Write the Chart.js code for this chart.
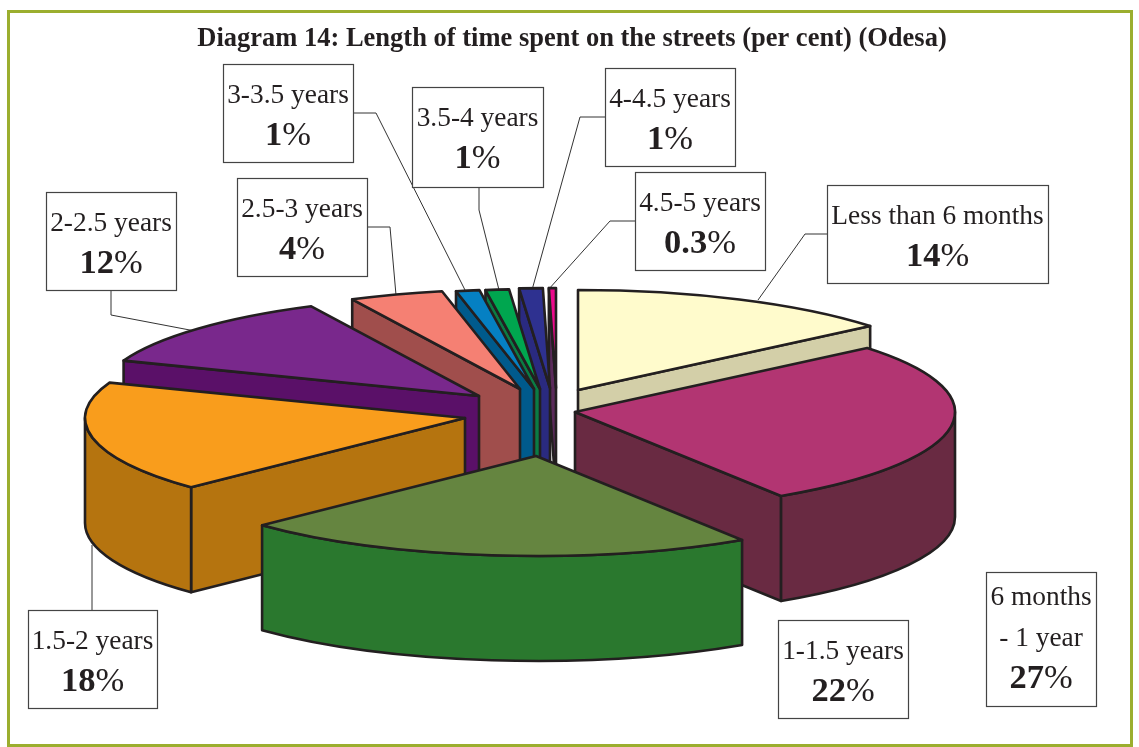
<!DOCTYPE html>
<html>
<head>
<meta charset="utf-8">
<style>html,body{margin:0;padding:0;background:#fff}canvas{display:block}</style>
<script src="https://cdn.jsdelivr.net/npm/chart.js@4/dist/chart.umd.min.js"></script>
</head>
<body>
<canvas id="c" width="1139" height="747"></canvas>
<script>
const titleText = 'Diagram 14: Length of time spent on the streets (per cent) (Odesa)';
const categories = ['Less than 6 months','6 months - 1 year','1-1.5 years','1.5-2 years','2-2.5 years','2.5-3 years','3-3.5 years','3.5-4 years','4-4.5 years','4.5-5 years'];
const values = [14,27,22,18,12,4,1,1,1,0.3];

const topColors  = ['#FFFBCC','#B23572','#658540','#F99D1C','#79288C','#F58073','#0580C3','#00A64F','#2E3190','#EC0A8C'];
const wallColors = ['#D3CFA8','#692A42','#2A782E','#B5740F','#5A1068','#A04E4C','#005A8C','#0B7C45','#2A2A80','#5A2A5A'];
// how far each exploded slice is pulled from the pie's centre, on screen
const explodeX   = [28,25,-14,-85,-71,-30,-16,-10,0,6];
const explodeY   = [-18,4,48,10,-12,-19,-19,-19,-20,-20];
const drawOrder  = [0,9,8,7,6,5,4,3,1,2];

const CX = 550, CY = 408, TILT = 0.263, DEPTH = 105, OUTLINE = '#231F20';
const labelFont = '27.4px "Liberation Serif"', boldFont = 'bold 34.5px "Liberation Serif"', pctFont = '34.5px "Liberation Serif"';

// label box: x, y, w, h, wrapped lines, text drop, leader polyline
const callouts = [
  {box:[827,185,221,98], lines:['Less than 6 months'], top:39, leader:[[827,234],[805,234],[758,300]]},
  {box:[986,572,110,134], lines:['6 months','- 1 year'], top:33, leader:[]},
  {box:[778,620,130,98], lines:['1-1.5 years'], top:39, leader:[]},
  {box:[28,610,129,98], lines:['1.5-2 years'], top:39, leader:[[92,610],[92,545]]},
  {box:[46,192,130,98], lines:['2-2.5 years'], top:39, leader:[[111,290],[111,315],[195,331]]},
  {box:[237,178,130,98], lines:['2.5-3 years'], top:39, leader:[[367,227],[390,227],[396,295]]},
  {box:[223,64,130,98], lines:['3-3.5 years'], top:39, leader:[[353,113],[376,113],[465,290]]},
  {box:[412,87,131,100], lines:['3.5-4 years'], top:39, leader:[[479,187],[479,210],[499,290]]},
  {box:[605,68,130,98], lines:['4-4.5 years'], top:39, leader:[[605,117],[580,117],[532,290]]},
  {box:[635,172,130,98], lines:['4.5-5 years'], top:39, leader:[[635,221],[610,221],[548,290]]}
];

const pie3d = {
  id:'pie3d',
  beforeDraw(chart){
    const ctx = chart.ctx;
    ctx.save();
    ctx.fillStyle = '#fff';
    ctx.fillRect(0,0,chart.width,chart.height);
    ctx.strokeStyle = '#9BAE2E';
    ctx.lineWidth = 3;
    ctx.strokeRect(8.5,11.5,1123,734);
    ctx.restore();
  },
  beforeDatasetsDraw(chart){
    const ctx = chart.ctx, arcs = chart.getDatasetMeta(0).data;
    ctx.save();
    ctx.strokeStyle = '#333';
    ctx.lineWidth = 1;
    callouts.forEach(c=>{
      if(!c.leader.length) return;
      ctx.beginPath();
      c.leader.forEach((p,i)=> i ? ctx.lineTo(p[0],p[1]) : ctx.moveTo(p[0],p[1]));
      ctx.stroke();
    });
    ctx.restore();

    drawOrder.forEach(i=>{
      const el = arcs[i], r = el.outerRadius, a0 = el.startAngle, a1 = el.endAngle;
      const ax = CX+explodeX[i], ay = CY+explodeY[i], ry = r*TILT;
      const rim = a => [ax+r*Math.cos(a), ay+ry*Math.sin(a)];
      ctx.save();
      ctx.lineJoin = 'round';
      ctx.lineWidth = 2.6;
      ctx.strokeStyle = OUTLINE;
      ctx.fillStyle = wallColors[i];
      const wall = a => {
        const p = rim(a);
        ctx.beginPath();
        ctx.moveTo(ax,ay); ctx.lineTo(p[0],p[1]); ctx.lineTo(p[0],p[1]+DEPTH); ctx.lineTo(ax,ay+DEPTH); ctx.closePath();
        ctx.fill(); ctx.stroke();
      };
      if(Math.sin(a0-Math.PI/2)>1e-6) wall(a0);
      if(Math.sin(a1+Math.PI/2)>1e-6) wall(a1);
      // outer curved wall, only the front half of the rim
      const n0 = ((a0%(2*Math.PI))+2*Math.PI)%(2*Math.PI), span = a1-a0;
      let from = null, to = null;
      [0,2*Math.PI].forEach(shift=>{
        const s = Math.max(n0-shift,0), e = Math.min(n0-shift+span,Math.PI);
        if(e>s){from=s;to=e;}
      });
      if(from!==null){
        ctx.beginPath();
        ctx.ellipse(ax,ay,r,ry,0,from,to,false);
        ctx.ellipse(ax,ay+DEPTH,r,ry,0,to,from,true);
        ctx.closePath();
        ctx.fill(); ctx.stroke();
      }
      // top face: the library's arc element, flattened
      ctx.save();
      ctx.translate(ax,ay);
      ctx.scale(1,TILT);
      ctx.translate(-el.x,-el.y);
      el.draw(ctx);
      ctx.restore();
      ctx.beginPath();
      ctx.moveTo(ax,ay);
      ctx.ellipse(ax,ay,r,ry,0,a0,a1,false);
      ctx.closePath();
      ctx.stroke();
      ctx.restore();
    });
    return false;
  },
  afterDraw(chart){
    const ctx = chart.ctx;
    ctx.save();
    ctx.textBaseline = 'alphabetic';
    callouts.forEach((c,i)=>{
      const [x,y,w,h] = c.box, mx = x+w/2;
      ctx.fillStyle = '#fff';
      ctx.fillRect(x,y,w,h);
      ctx.strokeStyle = '#444';
      ctx.lineWidth = 1.2;
      ctx.strokeRect(x+.5,y+.5,w,h);
      ctx.fillStyle = OUTLINE;
      ctx.font = labelFont;
      ctx.textAlign = 'center';
      c.lines.forEach((t,j)=> ctx.fillText(t,mx,y+c.top+j*41));
      const num = String(values[i]);
      ctx.font = boldFont;
      const wn = ctx.measureText(num).width;
      ctx.font = pctFont;
      const wp = ctx.measureText('%').width;
      const sx = mx-(wn+wp)/2, by = y+c.top+c.lines.length*41+1;
      ctx.textAlign = 'left';
      ctx.font = boldFont;
      ctx.fillText(num,sx,by);
      ctx.font = pctFont;
      ctx.fillText('%',sx+wn,by);
    });
    ctx.restore();
  }
};

new Chart(document.getElementById('c'),{
  type:'pie',
  data:{labels:categories,datasets:[{data:values,backgroundColor:topColors,borderWidth:0}]},
  options:{
    responsive:false,
    animation:false,
    radius:380,
    layout:{padding:{left:5}},
    plugins:{
      legend:{display:false},
      tooltip:{enabled:false},
      title:{display:true,text:titleText,color:OUTLINE,font:{family:'"Liberation Serif"',size:26.5,weight:'bold'},padding:{top:23,bottom:8}}
    }
  },
  plugins:[pie3d]
});
</script>
</body>
</html>
